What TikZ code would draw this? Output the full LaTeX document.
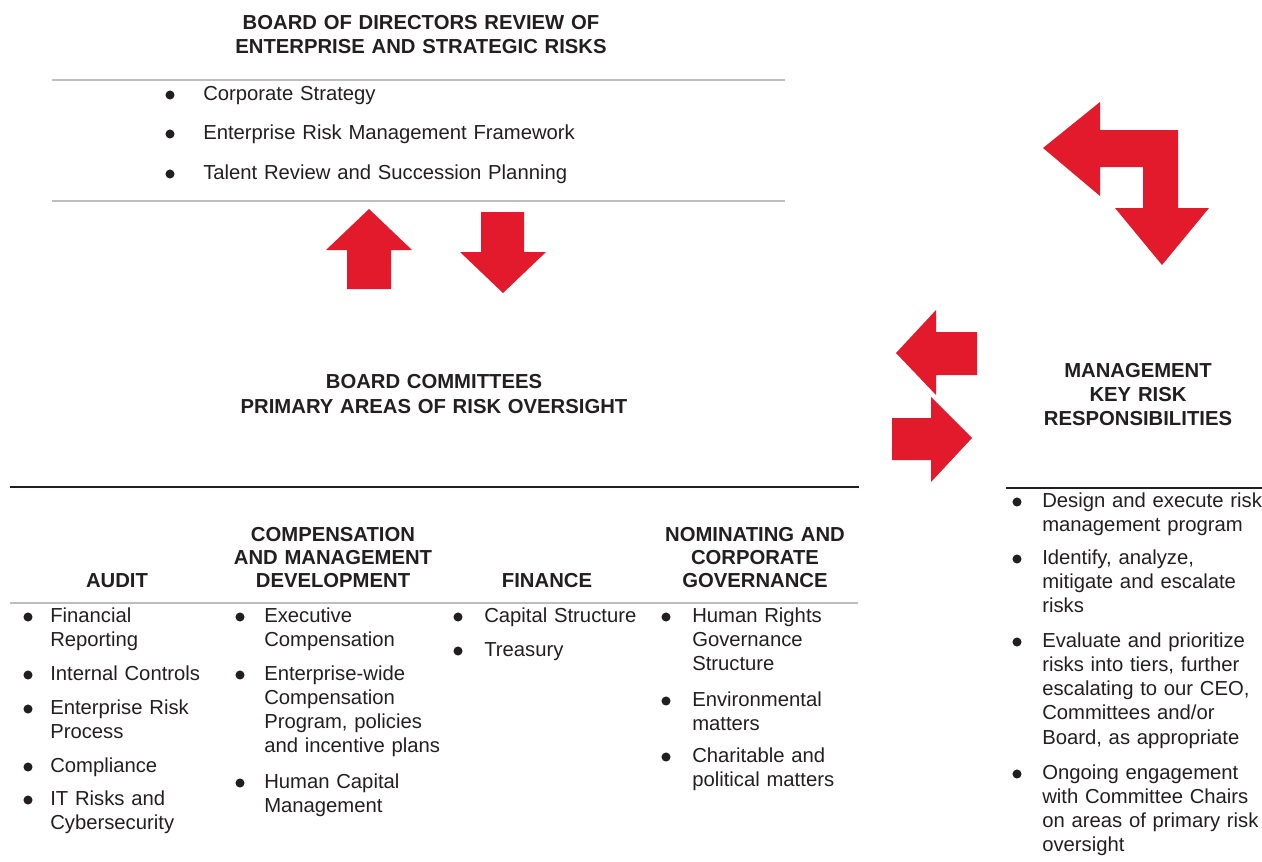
\documentclass[tikz,border=0pt]{standalone}
\usepackage{fontspec}
\setmainfont{Liberation Sans}
\definecolor{arrowred}{RGB}{226,26,44}
\definecolor{ink}{RGB}{35,31,32}
\definecolor{rulegray}{RGB}{190,190,190}
\tikzset{
  head/.style={font=\fontsize{15.2}{18}\selectfont\bfseries, text=ink, align=center,
    text width=330pt, inner sep=0pt, anchor=base},
  colhead/.style={head, text width=165pt, font=\fontsize{15.2}{17.3}\selectfont\bfseries},
  itm/.style={font=\fontsize{15.2}{18.2}\selectfont, text=ink, align=left,
    text width=300pt, inner sep=0pt, anchor=base west},
  bul/.style={fill=ink},
}
\begin{document}
\begin{tikzpicture}[x=0.75pt, y=-0.75pt]
		\useasboundingbox (0,0) rectangle (1262,861);
		
		% consejo
		\node[head] (brd) at (421,29) {BOARD OF DIRECTORS REVIEW OF\\ENTERPRISE AND STRATEGIC RISKS};
		\draw[rulegray, line width=1.5pt] (52,80) -- (785,80);
		\node[itm] (b1) at (203,100) {Corporate Strategy};
		\node[itm] (b2) at (203,139) {Enterprise Risk Management Framework};
		\node[itm] (b3) at (203,179) {Talent Review and Succession Planning};
		\fill[bul] (b1.base west) ++(-33,-5) circle (3.4pt);
		\fill[bul] (b2.base west) ++(-33,-5) circle (3.4pt);
		\fill[bul] (b3.base west) ++(-33,-5) circle (3.4pt);
		\draw[rulegray, line width=1.5pt] (52,201) -- (785,201);
		
		% flechas
		\fill[arrowred] (369,209) -- (412,250) -- (391,250) -- (391,289) -- (347,289) -- (347,250) -- (326,250) -- cycle;
		\fill[arrowred] (503,293) -- (546,252) -- (524,252) -- (524,212) -- (481,212) -- (481,252) -- (460,252) -- cycle;
		\fill[arrowred] (1043,148) -- (1100,102) -- (1100,130) -- (1178,130) -- (1178,208) -- (1209,208)
			-- (1162,265) -- (1115,208) -- (1143,208) -- (1143,167) -- (1100,167) -- (1100,196) -- cycle;
		\fill[arrowred] (896,353) -- (936,310) -- (936,332) -- (977,332) -- (977,375) -- (936,375) -- (936,395) -- cycle;
		\fill[arrowred] (972,438) -- (931,397) -- (931,418) -- (892,418) -- (892,460) -- (931,460) -- (931,482) -- cycle;
		
		% comites
		\node[head] (cmt) at (434,388) {BOARD COMMITTEES\\[1pt]PRIMARY AREAS OF RISK OVERSIGHT};
		\draw[ink, line width=1.5pt] (10,487) -- (859,487);
		\node[colhead] (aud) at (117,587) {AUDIT};
		\node[colhead] (cmp) at (333,541) {COMPENSATION\\AND MANAGEMENT\\DEVELOPMENT};
		\node[colhead] (fin) at (547,587) {FINANCE};
		\node[colhead] (nom) at (755,541) {NOMINATING AND\\CORPORATE\\GOVERNANCE};
		\draw[rulegray, line width=1.5pt] (10,603) -- (858,603);
		
		% auditoria
		\node[itm] (au1) at (50,622) {Financial\\Reporting};
		\node[itm] (au2) at (50,680) {Internal Controls};
		\node[itm] (au3) at (50,714) {Enterprise Risk\\Process};
		\node[itm] (au4) at (50,772) {Compliance};
		\node[itm] (au5) at (50,805) {IT Risks and\\Cybersecurity};
		\foreach \n in {au1,au2,au3,au4,au5}
			\fill[bul] (\n.base west) ++(-22,-5) circle (3.4pt);
		
		% compensacion
		\node[itm] (cm1) at (264,622) {Executive\\Compensation};
		\node[itm] (cm2) at (264,680) {Enterprise-wide\\Compensation\\Program, policies\\and incentive plans};
		\node[itm] (cm3) at (264,788) {Human Capital\\Management};
		\foreach \n in {cm1,cm2,cm3}
			\fill[bul] (\n.base west) ++(-24,-5) circle (3.4pt);
		
		% finanzas
		\node[itm] (fi1) at (484,622) {Capital Structure};
		\node[itm] (fi2) at (484,656) {Treasury};
		\foreach \n in {fi1,fi2}
			\fill[bul] (\n.base west) ++(-26,-5) circle (3.4pt);
		
		% nominacion
		\node[itm] (no1) at (692,622) {Human Rights\\Governance\\Structure};
		\node[itm] (no2) at (692,706) {Environmental\\matters};
		\node[itm] (no3) at (692,762) {Charitable and\\political matters};
		\foreach \n in {no1,no2,no3}
			\fill[bul] (\n.base west) ++(-26,-5) circle (3.4pt);
		
		% gerencia
		\node[head] (mgt) at (1138,377) {MANAGEMENT\\KEY RISK\\RESPONSIBILITIES};
		\draw[ink, line width=1.5pt] (1006,488) -- (1262,488);
		\node[itm] (mg1) at (1042,507) {Design and execute risk\\management program};
		\node[itm] (mg2) at (1042,564) {Identify, analyze,\\mitigate and escalate\\risks};
		\node[itm] (mg3) at (1042,647) {Evaluate and prioritize\\risks into tiers, further\\escalating to our CEO,\\Committees and/or\\Board, as appropriate};
		\node[itm] (mg4) at (1042,779) {Ongoing engagement\\with Committee Chairs\\on areas of primary risk\\oversight};
		\foreach \n in {mg1,mg2,mg3,mg4}
			\fill[bul] (\n.base west) ++(-25,-5) circle (3.4pt);
	\end{tikzpicture}
\end{document}
